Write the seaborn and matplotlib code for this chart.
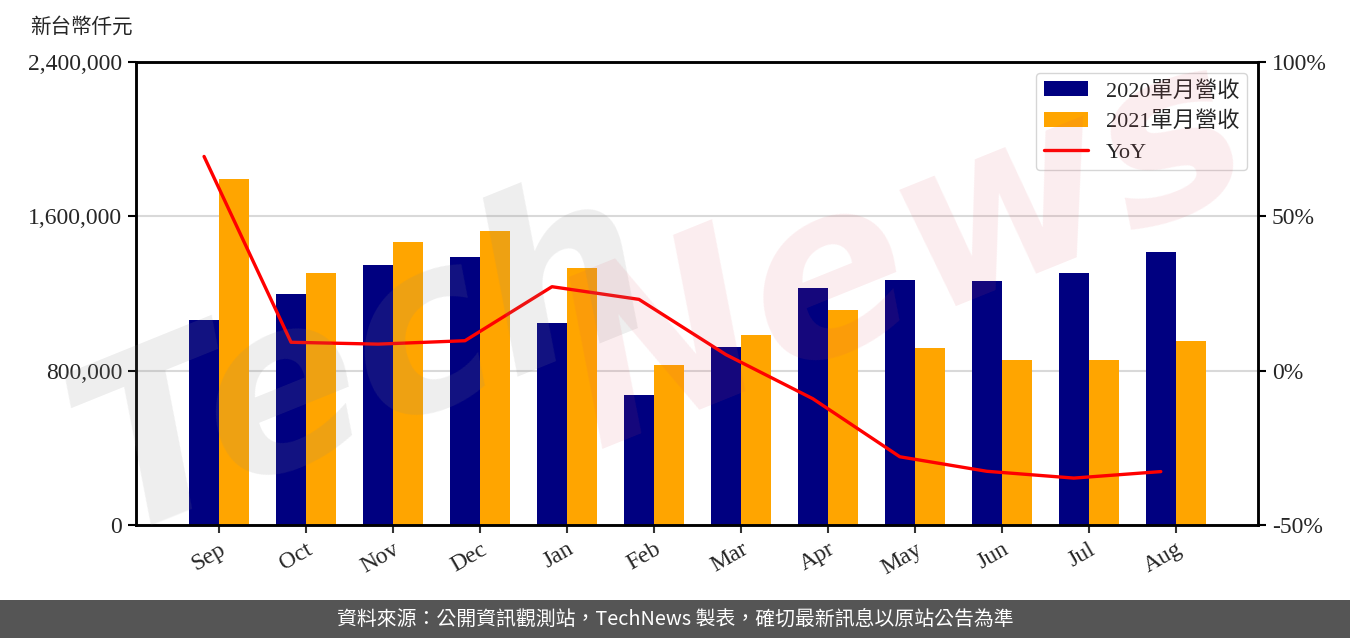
import numpy as np
import pandas as pd
import matplotlib
matplotlib.use("Agg")
import matplotlib.pyplot as plt
from matplotlib.ticker import FuncFormatter, FixedLocator
from matplotlib.lines import Line2D
import seaborn as sns

months = ["Sep", "Oct", "Nov", "Dec", "Jan", "Feb", "Mar", "Apr", "May", "Jun", "Jul", "Aug"]
rev_2020 = [1062600, 1197000, 1348000, 1389000, 1047000, 674000, 923000, 1228000, 1270000, 1265000, 1306000, 1415000]
rev_2021 = [1793500, 1306000, 1467000, 1524000, 1332000, 829000, 985000, 1114000, 917000, 855000, 855000, 954000]
yoy = [69.4, 9.2, 8.6, 9.7, 27.2, 23.1, 5.2, -9.1, -27.9, -32.6, -34.8, -32.7]
series_names = ["2020單月營收", "2021單月營收"]
yoy_name = "YoY"
left_ticks = [0, 800000, 1600000, 2400000]
right_ticks = [-50, 0, 50, 100]
unit_label = "新台幣仟元"
footer = "資料來源：公開資訊觀測站，TechNews 製表，確切最新訊息以原站公告為準"

sns.set_theme(style="white")
plt.rcParams["font.family"] = ["Liberation Serif", "Noto Sans CJK TC", "DejaVu Sans"]

df = pd.DataFrame({
    "month": months * 2,
    "value": rev_2020 + rev_2021,
    "series": [series_names[0]] * len(months) + [series_names[1]] * len(months),
})

fig = plt.figure(figsize=(13.5, 6.38), dpi=100)
ax = fig.add_axes([136 / 1350, 1 - 525 / 638, (1258 - 136) / 1350, (525 - 62) / 638])

bar_w = 0.69
sns.barplot(data=df, x="month", y="value", hue="series", order=months,
            hue_order=series_names, palette=["#000080", "#FFA500"],
            width=bar_w, dodge=True, saturation=1, gap=0, ax=ax, legend=True,
            linewidth=0, edgecolor="none", zorder=2)

ax.set_xlim(-0.955, 11.945)
ax.set_ylim(0, 2400000)
ax.yaxis.set_major_locator(FixedLocator(left_ticks))
ax.yaxis.set_major_formatter(FuncFormatter(lambda v, p: f"{int(v):,}"))
ax.grid(axis="y", color="#d9d9d9", linewidth=1.5, zorder=0)
ax.set_axisbelow(True)
ax.set_xlabel("")
ax.set_ylabel("")
for s in ax.spines.values():
    s.set_color("black")
    s.set_linewidth(1.8)
ax.tick_params(axis="y", which="major", length=6, width=1.5, color="black",
               labelsize=17, left=True, direction="out", pad=4)
ax.tick_params(axis="x", which="major", length=6, width=1.5, color="#333333",
               labelsize=17, bottom=True, direction="out", pad=4)
for lbl in ax.get_xticklabels():
    lbl.set_rotation(30)
    lbl.set_ha("right")
    lbl.set_rotation_mode("anchor")

handles, labels = ax.get_legend_handles_labels()
ax.get_legend().remove()

ax2 = ax.twinx()
line_x = np.arange(len(months)) - bar_w / 4
yoy_df = pd.DataFrame({"x": line_x, "yoy": yoy})
sns.lineplot(data=yoy_df, x="x", y="yoy", color="#FF0000", linewidth=2.4, ax=ax2, zorder=3)
ax2.set_ylim(-50, 100)
ax2.yaxis.set_major_locator(FixedLocator(right_ticks))
ax2.yaxis.set_major_formatter(FuncFormatter(lambda v, p: f"{int(v)}%"))
ax2.set_ylabel("")
ax2.set_xlabel("")
ax2.grid(False)
for s in ax2.spines.values():
    s.set_color("black")
    s.set_linewidth(1.8)
ax2.tick_params(axis="y", length=6, width=1.5, color="black", labelsize=17,
                right=True, direction="out", pad=4)

handles = list(handles) + [Line2D([0], [0], color="#FF0000", linewidth=2.4)]
labels = list(labels) + [yoy_name]
leg = ax2.legend(handles, labels, loc="upper right", fontsize=16, frameon=True,
                 fancybox=True, edgecolor="#cccccc", framealpha=0.8,
                 handlelength=2.0, handleheight=0.7, borderpad=0.35,
                 labelspacing=0.45, handletextpad=0.8, borderaxespad=0,
                 bbox_to_anchor=(0.9902, 0.9762))

fig.text(30 / 1350, 1 - 27 / 638, unit_label, fontsize=14.8, va="center", ha="left",
         family=["Noto Sans CJK TC"])

# watermark
fig.text(0.27, 0.43, "Tech", fontsize=170, rotation=22, color="#888888", alpha=0.14,
         ha="center", va="center", family=["DejaVu Sans"], style="italic",
         weight="bold", zorder=10)
fig.text(0.67, 0.60, "News", fontsize=170, rotation=22, color="#e05060", alpha=0.10,
         ha="center", va="center", family=["DejaVu Sans"], style="italic",
         weight="bold", zorder=10)

# footer
fig.patches.append(plt.Rectangle((0, 0), 1, 38 / 638, transform=fig.transFigure,
                                 facecolor="#555555", edgecolor="none", zorder=0))
fig.text(0.5, 19 / 638, footer, color="white", fontsize=14.3, ha="center", va="center",
         family=["Noto Sans CJK TC"])

fig.savefig("out.png", dpi=100, facecolor="white")
